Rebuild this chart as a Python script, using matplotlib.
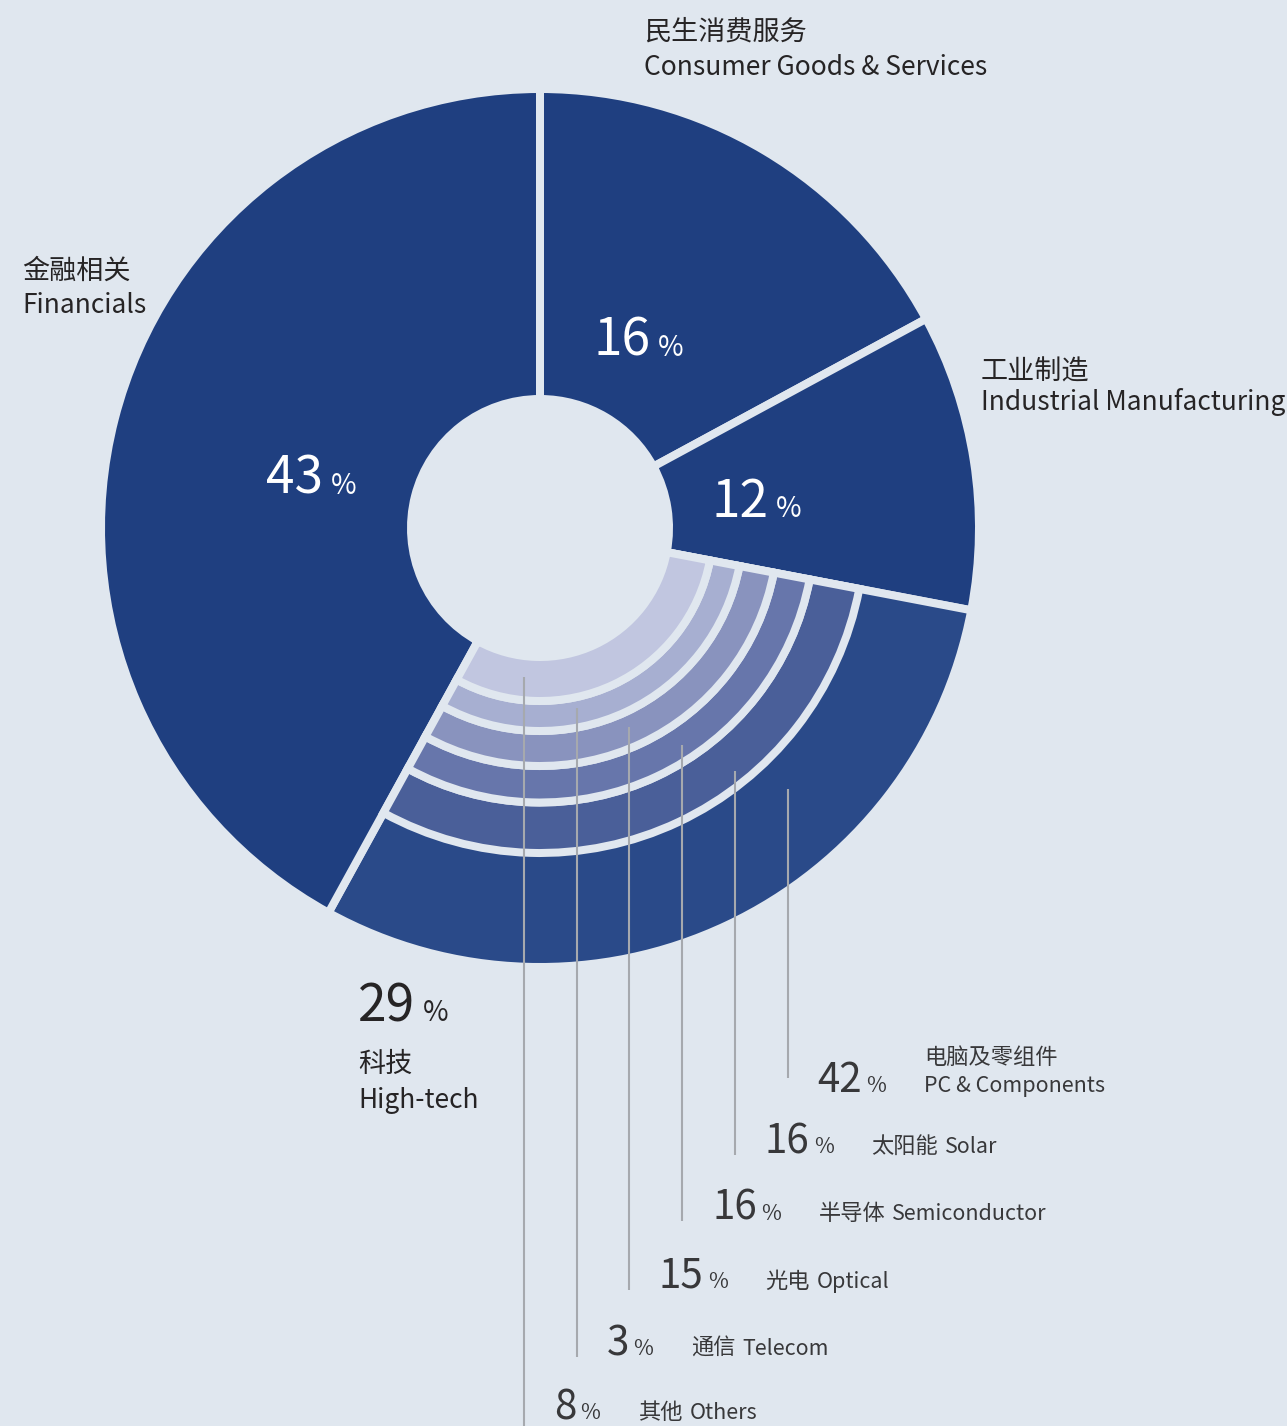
import matplotlib.pyplot as plt
from matplotlib.patches import Wedge

W, H = 1287, 1426
BG = '#e0e7ef'
plt.rcParams['font.family'] = ['Noto Sans CJK SC', 'DejaVu Sans']

# main sectors, clockwise from 12 o'clock
sector_cn = ['民生消费服务', '工业制造', '科技', '金融相关']
sector_en = ['Consumer Goods & Services', 'Industrial Manufacturing', 'High-tech', 'Financials']
sector_pct = [16, 12, 29, 43]
# share of the ring as it is drawn in the picture (a bit off the printed numbers)
sector_drawn = [17.1, 10.9, 30.0, 42.0]
sector_colors = ['#1f3f80', '#1f3f80', '#2a4a89', '#1f3f80']

# high-tech breakdown, outermost band first
tech_cn = ['电脑及零组件', '太阳能', '半导体', '光电', '通信', '其他']
tech_en = ['PC & Components', 'Solar', 'Semiconductor', 'Optical', 'Telecom', 'Others']
tech_pct = [42, 16, 16, 15, 3, 8]
tech_colors = ['#2a4a89', '#4a5f99', '#6776ab', '#8993be', '#a7afd1', '#c1c6e0']

# layout (pixels)
cx, cy = 540, 528
R_OUT, R_IN = 439, 129
band_edges = [439, 325, 274.5, 238, 203, 173, 129]
GAP = 8 * 72 / 100
INK = '#262425'
SUB = '#38383a'

fig = plt.figure(figsize=(W / 100, H / 100), dpi=100, facecolor=BG)
ax = fig.add_axes([0, 0, 1, 1])
ax.set_facecolor(BG)

# y axis is flipped below, so counterclock here reads clockwise on screen
wedges, _ = ax.pie(sector_drawn, colors=sector_colors, startangle=-90, counterclock=True,
                   center=(cx, cy), radius=R_OUT,
                   wedgeprops=dict(width=R_OUT - R_IN, edgecolor=BG, linewidth=GAP))

# nested bands inside the high-tech sector
t1, t2 = wedges[2].theta1, wedges[2].theta2
for i, col in enumerate(tech_colors[1:]):
    r_o, r_i = band_edges[i + 1], band_edges[i + 2]
    ax.add_patch(Wedge((cx, cy), r_o, t1, t2, width=r_o - r_i,
                       facecolor=col, edgecolor=BG, linewidth=GAP))

ax.set_xlim(0, W)
ax.set_ylim(H, 0)
ax.set_aspect('auto')
ax.axis('off')

renderer = fig.canvas.get_renderer()


def run(x, y, pieces):
    # place text pieces one after another on a common baseline
    for s, size, color, weight, gap in pieces:
        t = ax.text(x, y, s, fontsize=size, color=color, fontweight=weight,
                    ha='left', va='baseline')
        x += t.get_window_extent(renderer).width + gap
    return x


# sector names
name_pos = [(644, 40, 75), (981, 380, 410), (358, 1072, 1108), (22, 279, 313)]
for (x, y_cn, y_en), cn, en in zip(name_pos, sector_cn, sector_en):
    ax.text(x, y_cn, cn, fontsize=19.5, color=INK, ha='left', va='baseline')
    ax.text(x, y_en, en, fontsize=19, color=INK, ha='left', va='baseline')

# sector percentages
pct_pos = [(593, 356), (711, 517), (358, 1021), (266, 494)]
pct_col = ['white', 'white', INK, 'white']
for (x, y), p, c in zip(pct_pos, sector_pct, pct_col):
    run(x, y, [(str(p), 37, c, 'normal', 8), ('%', 20, c, 'normal', 0)])

# leader lines to the high-tech breakdown
lead_x = [787.5, 735, 682, 629, 577, 524]
lead_top = [789, 771, 745, 727, 708, 677]
lead_bottom = [1078, 1155, 1221, 1290, 1357, 1426]
ax.vlines(lead_x, lead_top, lead_bottom, color='#a6a9ae', lw=1.5)

row_base = [1092, 1153, 1220, 1288, 1355, 1419]
for i in range(len(tech_pct)):
    x = run(lead_x[i] + 30, row_base[i],
            [(str(tech_pct[i]), 29, SUB, 'light', 4), ('%', 15.5, SUB, 'light', 38)])
    if i == 0:
        ax.text(x, row_base[i] - 28, tech_cn[i], fontsize=16, color=SUB,
                fontweight='light', ha='left', va='baseline')
        ax.text(x, row_base[i], tech_en[i], fontsize=15.5, color=SUB,
                fontweight='light', ha='left', va='baseline')
    else:
        run(x, row_base[i], [(tech_cn[i], 16, SUB, 'light', 7),
                             (tech_en[i], 15.5, SUB, 'light', 0)])

fig.savefig('out.png', dpi=100, facecolor=BG)
